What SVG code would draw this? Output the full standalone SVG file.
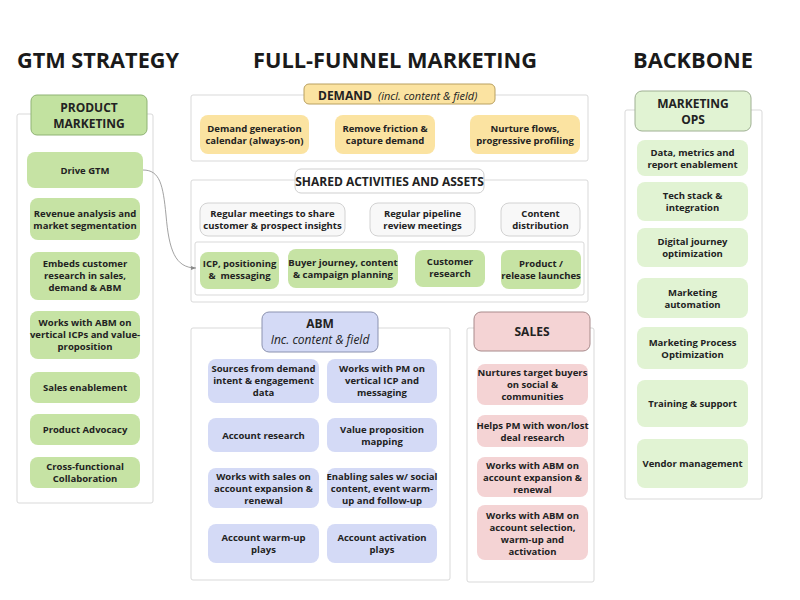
<svg xmlns="http://www.w3.org/2000/svg" width="800" height="600" viewBox="0 0 800 600">
<defs>
<style>
text{font-family:"Open Sans","Noto Sans","DejaVu Sans",sans-serif;fill:#222;text-anchor:middle}
.h{font-size:21px;font-weight:700;fill:#1a1a1a}
.t{font-size:9.5px;font-weight:700}
.hd{font-size:12px;font-weight:700}
.it{font-style:italic;font-weight:400}
.cont{fill:#fff;stroke:#d9d9d9;stroke-width:1}
.pm{fill:#c6e3a4}
.pmh{fill:#c2e2a0;stroke:#8fb374;stroke-width:1}
.dm{fill:#fbe3a1}
.dmh{fill:#fbe3a1;stroke:#b9a060;stroke-width:1}
.gr{fill:#f8f8f8;stroke:#d2d2d2;stroke-width:1}
.grh{fill:#fff;stroke:#cfcfcf;stroke-width:1}
.ab{fill:#d4daf6}
.abh{fill:#d4daf6;stroke:#8b92b0;stroke-width:1}
.sa{fill:#f4d3d4}
.sah{fill:#f4d3d4;stroke:#a88a8b;stroke-width:1}
.bb{fill:#e1f3d3}
.bbh{fill:#e1f3d3;stroke:#9fb093;stroke-width:1}
.conn{fill:none;stroke:#8a8a8a;stroke-width:0.8}
</style>
<marker id="arr" markerWidth="6" markerHeight="6" refX="5" refY="3" orient="auto" markerUnits="userSpaceOnUse">
<path d="M0,1 L5,3 L0,5 Z" fill="#8a8a8a"/>
</marker>
</defs>
<rect width="800" height="600" fill="#fff"/>

<g id="headings">
<text class="h" x="98" y="68" textLength="162" lengthAdjust="spacingAndGlyphs">GTM STRATEGY</text>
<text class="h" x="395" y="68" textLength="284" lengthAdjust="spacingAndGlyphs">FULL-FUNNEL MARKETING</text>
<text class="h" x="693" y="68" textLength="120" lengthAdjust="spacingAndGlyphs">BACKBONE</text>
</g>

<!-- Containers -->
<g id="containers">
<rect class="cont" x="17" y="114" width="136" height="389" rx="2"/>
<rect class="cont" x="191" y="95" width="397" height="66" rx="2"/>
<rect class="cont" x="191" y="180" width="397" height="122" rx="2"/>
<rect class="cont" x="195" y="242" width="389" height="53" rx="2"/>
<rect class="cont" x="191" y="328" width="259" height="252" rx="2"/>
<rect class="cont" x="467" y="328" width="127" height="254" rx="2"/>
<rect class="cont" x="625" y="110" width="137" height="389" rx="2"/>
</g>

<g id="connectors">
<path class="conn" d="M143,170 C160,170 163,185 166,215 C169,250 175,268 196,268" marker-end="url(#arr)"/>
</g>

<!-- Product marketing -->
<g id="pm-header"><rect class="pmh" x="31" y="95" width="116" height="40" rx="6"/><text class="hd" x="89" y="112">PRODUCT</text><text class="hd" x="89" y="128">MARKETING</text></g>
<g id="pm-drive"><rect class="pm" x="27" y="152" width="116" height="36" rx="8"/><text class="t" x="85" y="173.5">Drive GTM</text></g>
<g id="pm-revenue"><rect class="pm" x="30" y="198" width="110" height="42" rx="8"/><text class="t" x="85" y="216.5">Revenue analysis and</text><text class="t" x="85" y="228.5">market segmentation</text></g>
<g id="pm-embeds"><rect class="pm" x="30" y="252" width="110" height="48" rx="8"/><text class="t" x="85" y="267">Embeds customer</text><text class="t" x="85" y="279">research in sales,</text><text class="t" x="85" y="291">demand &amp; ABM</text></g>
<g id="pm-works"><rect class="pm" x="30" y="311" width="110" height="48" rx="8"/><text class="t" x="85" y="326">Works with ABM on</text><text class="t" x="85" y="338">vertical ICPs and value-</text><text class="t" x="85" y="350">proposition</text></g>
<g id="pm-sales"><rect class="pm" x="30" y="372" width="110" height="31" rx="8"/><text class="t" x="85" y="391">Sales enablement</text></g>
<g id="pm-advocacy"><rect class="pm" x="30" y="414" width="110" height="31" rx="8"/><text class="t" x="85" y="433">Product Advocacy</text></g>
<g id="pm-cross"><rect class="pm" x="30" y="457" width="110" height="31" rx="8"/><text class="t" x="85" y="470">Cross-functional</text><text class="t" x="85" y="482">Collaboration</text></g>

<!-- Demand -->
<g id="demand-header"><rect class="dmh" x="304" y="84" width="191" height="20" rx="5"/><text class="hd" x="318" y="100" style="text-anchor:start">DEMAND<tspan class="it" x="378" font-size="11">(incl. content &amp; field)</tspan></text></g>
<g id="demand-1"><rect class="dm" x="200" y="115" width="109" height="39" rx="8"/><text class="t" x="254.5" y="132">Demand generation</text><text class="t" x="254.5" y="144">calendar (always-on)</text></g>
<g id="demand-2"><rect class="dm" x="335" y="115" width="100" height="39" rx="8"/><text class="t" x="385" y="132">Remove friction &amp;</text><text class="t" x="385" y="144">capture demand</text></g>
<g id="demand-3"><rect class="dm" x="470" y="115" width="110" height="39" rx="8"/><text class="t" x="525" y="132">Nurture flows,</text><text class="t" x="525" y="144">progressive profiling</text></g>

<!-- Shared -->
<g id="shared-header"><rect class="grh" x="295" y="169" width="189" height="24" rx="6"/><text class="hd" x="389.5" y="186" font-size="11.5">SHARED ACTIVITIES AND ASSETS</text></g>
<g id="shared-meet"><rect class="gr" x="200" y="203" width="145" height="33" rx="8"/><text class="t" x="272.5" y="217">Regular meetings to share</text><text class="t" x="272.5" y="229">customer &amp; prospect insights</text></g>
<g id="shared-pipeline"><rect class="gr" x="370" y="203" width="105" height="33" rx="8"/><text class="t" x="422.5" y="217">Regular pipeline</text><text class="t" x="422.5" y="229">review meetings</text></g>
<g id="shared-content"><rect class="gr" x="501" y="203" width="79" height="33" rx="8"/><text class="t" x="540.5" y="217">Content</text><text class="t" x="540.5" y="229">distribution</text></g>
<g id="shared-icp"><rect class="pm" x="200" y="252" width="79" height="37" rx="8"/><text class="t" x="239.5" y="267">ICP, positioning</text><text class="t" x="239.5" y="279" style="white-space:pre">&amp;  messaging</text></g>
<g id="shared-buyer"><rect class="pm" x="288" y="249" width="110" height="39" rx="8"/><text class="t" x="343" y="266">Buyer journey, content</text><text class="t" x="343" y="278">&amp; campaign planning</text></g>
<g id="shared-research"><rect class="pm" x="415" y="250" width="70" height="37" rx="8"/><text class="t" x="450" y="265">Customer</text><text class="t" x="450" y="277">research</text></g>
<g id="shared-launch"><rect class="pm" x="501" y="250" width="80" height="39" rx="8"/><text class="t" x="541" y="267">Product /</text><text class="t" x="541" y="279">release launches</text></g>

<!-- ABM -->
<g id="abm-header"><rect class="abh" x="262" y="312" width="116" height="40" rx="7"/><text class="hd" x="320" y="328">ABM</text><text class="hd it" x="320" y="344">Inc. content &amp; field</text></g>
<g id="abm-1"><rect class="ab" x="208" y="359" width="111" height="44" rx="8"/><text class="t" x="263.5" y="372">Sources from demand</text><text class="t" x="263.5" y="384">intent &amp; engagement</text><text class="t" x="263.5" y="396">data</text></g>
<g id="abm-2"><rect class="ab" x="327" y="359" width="110" height="44" rx="8"/><text class="t" x="382" y="372">Works with PM on</text><text class="t" x="382" y="384">vertical ICP and</text><text class="t" x="382" y="396">messaging</text></g>
<g id="abm-3"><rect class="ab" x="208" y="418" width="111" height="34" rx="8"/><text class="t" x="263.5" y="438.5">Account research</text></g>
<g id="abm-4"><rect class="ab" x="327" y="418" width="110" height="34" rx="8"/><text class="t" x="382" y="432.5">Value proposition</text><text class="t" x="382" y="444.5">mapping</text></g>
<g id="abm-5"><rect class="ab" x="208" y="468" width="111" height="40" rx="8"/><text class="t" x="263.5" y="479.5">Works with sales on</text><text class="t" x="263.5" y="491.5">account expansion &amp;</text><text class="t" x="263.5" y="503.5">renewal</text></g>
<g id="abm-6"><rect class="ab" x="327" y="468" width="110" height="40" rx="8"/><text class="t" x="382" y="479.5">Enabling sales w/ social</text><text class="t" x="382" y="491.5">content, event warm-</text><text class="t" x="382" y="503.5">up and follow-up</text></g>
<g id="abm-7"><rect class="ab" x="208" y="524" width="111" height="39" rx="8"/><text class="t" x="263.5" y="541">Account warm-up</text><text class="t" x="263.5" y="553">plays</text></g>
<g id="abm-8"><rect class="ab" x="327" y="524" width="110" height="39" rx="8"/><text class="t" x="382" y="541">Account activation</text><text class="t" x="382" y="553">plays</text></g>

<!-- Sales -->
<g id="sales-header"><rect class="sah" x="474" y="312" width="116" height="39" rx="7"/><text class="hd" x="532" y="336">SALES</text></g>
<g id="sales-1"><rect class="sa" x="477" y="364" width="111" height="41" rx="8"/><text class="t" x="532.5" y="376">Nurtures target buyers</text><text class="t" x="532.5" y="388">on social &amp;</text><text class="t" x="532.5" y="400">communities</text></g>
<g id="sales-2"><rect class="sa" x="477" y="415" width="111" height="32" rx="8"/><text class="t" x="532.5" y="428.5">Helps PM with won/lost</text><text class="t" x="532.5" y="440.5">deal research</text></g>
<g id="sales-3"><rect class="sa" x="477" y="457" width="111" height="40" rx="8"/><text class="t" x="532.5" y="468.5">Works with ABM on</text><text class="t" x="532.5" y="480.5">account expansion &amp;</text><text class="t" x="532.5" y="492.5">renewal</text></g>
<g id="sales-4"><rect class="sa" x="477" y="505" width="111" height="55" rx="8"/><text class="t" x="532.5" y="519">Works with ABM on</text><text class="t" x="532.5" y="531">account selection,</text><text class="t" x="532.5" y="543">warm-up and</text><text class="t" x="532.5" y="555">activation</text></g>

<!-- Backbone -->
<g id="ops-header"><rect class="bbh" x="635" y="91" width="116" height="40" rx="7"/><text class="hd" x="693" y="107.5">MARKETING</text><text class="hd" x="693" y="124">OPS</text></g>
<g id="ops-1"><rect class="bb" x="637" y="140" width="111" height="36" rx="8"/><text class="t" x="692.5" y="155.5">Data, metrics and</text><text class="t" x="692.5" y="167.5">report enablement</text></g>
<g id="ops-2"><rect class="bb" x="637" y="182" width="111" height="39" rx="8"/><text class="t" x="692.5" y="199">Tech stack &amp;</text><text class="t" x="692.5" y="211">integration</text></g>
<g id="ops-3"><rect class="bb" x="637" y="228" width="111" height="39" rx="8"/><text class="t" x="692.5" y="245">Digital journey</text><text class="t" x="692.5" y="257">optimization</text></g>
<g id="ops-4"><rect class="bb" x="637" y="278" width="111" height="40" rx="8"/><text class="t" x="692.5" y="295.5">Marketing</text><text class="t" x="692.5" y="307.5">automation</text></g>
<g id="ops-5"><rect class="bb" x="637" y="327" width="111" height="42" rx="8"/><text class="t" x="692.5" y="345.5">Marketing Process</text><text class="t" x="692.5" y="357.5">Optimization</text></g>
<g id="ops-6"><rect class="bb" x="637" y="380" width="111" height="47" rx="8"/><text class="t" x="692.5" y="407">Training &amp; support</text></g>
<g id="ops-7"><rect class="bb" x="637" y="439" width="111" height="49" rx="8"/><text class="t" x="692.5" y="467">Vendor management</text></g>
</svg>
